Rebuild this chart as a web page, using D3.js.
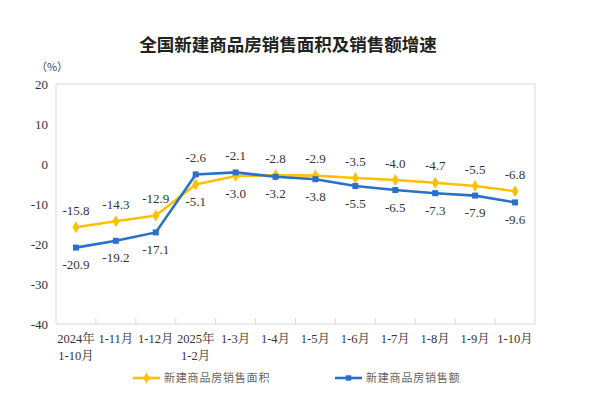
<!DOCTYPE html>
<html>
<head>
<meta charset="utf-8">
<script src="https://cdn.jsdelivr.net/npm/d3@7"></script>
<style>
  body { margin: 0; background: #fff; }
  text { font-family: "Liberation Serif", "Noto Serif CJK SC", "Noto Sans CJK SC", serif; }
</style>
</head>
<body>
<div id="chart"></div>
<script>
const width = 611;
const height = 420;

// DATA
const categories = [
  ["2024年", "1-10月"], ["1-11月"], ["1-12月"], ["2025年", "1-2月"],
  ["1-3月"], ["1-4月"], ["1-5月"], ["1-6月"], ["1-7月"], ["1-8月"], ["1-9月"], ["1-10月"]
];
const areaValues = [-15.8, -14.3, -12.9, -5.1, -3.0, -2.8, -2.9, -3.5, -4.0, -4.7, -5.5, -6.8];
const salesValues = [-20.9, -19.2, -17.1, -2.6, -2.1, -3.2, -3.8, -5.5, -6.5, -7.3, -7.9, -9.6];
const yTicks = [20, 10, 0, -10, -20, -30, -40];
const seriesNames = ["新建商品房销售面积", "新建商品房销售额"];
const title = "全国新建商品房销售面积及销售额增速";

const yellow = "#FFC000";
const blue = "#2870C8";

const plot = { left: 56, right: 535, top: 84, bottom: 324 };

const svg = d3
  .select("#chart")
  .append("svg")
  .attr("width", width)
  .attr("height", height);

const x = d3
  .scaleBand()
  .domain(d3.range(categories.length))
  .range([plot.left, plot.right]);

const y = d3
  .scaleLinear()
  .domain([-40, 20])
  .range([plot.bottom, plot.top]);

// title
svg.append("text")
  .attr("x", 288)
  .attr("y", 51)
  .attr("text-anchor", "middle")
  .style("font-family", "'Noto Sans CJK SC', sans-serif")
  .style("font-size", "17.5px")
  .style("font-weight", "bold")
  .attr("fill", "#222")
  .text(title);

svg.append("text")
  .attr("x", 52)
  .attr("y", 71)
  .attr("text-anchor", "middle")
  .style("font-family", "'Noto Sans CJK SC', sans-serif")
  .style("font-size", "11px")
  .attr("fill", "#444")
  .text("（%）");

// frame
svg.append("rect")
  .attr("x", plot.left)
  .attr("y", plot.top)
  .attr("width", plot.right - plot.left)
  .attr("height", plot.bottom - plot.top)
  .attr("fill", "none")
  .attr("stroke", "#d9d9d9")
  .attr("stroke-width", 1);

// y axis labels
svg.append("g")
  .selectAll("text")
  .data(yTicks)
  .join("text")
  .attr("x", 48)
  .attr("y", (d) => y(d))
  .attr("dy", "0.35em")
  .attr("text-anchor", "end")
  .style("font-size", "13px")
  .attr("fill", "#333")
  .text((d) => d);

// x axis ticks (inside, between categories)
svg.append("g")
  .selectAll("line")
  .data(d3.range(1, categories.length))
  .join("line")
  .attr("x1", (d) => x(d))
  .attr("x2", (d) => x(d))
  .attr("y1", plot.bottom)
  .attr("y2", plot.bottom - 6)
  .attr("stroke", "#d9d9d9");

const xLabels = svg.append("g")
  .selectAll("text")
  .data(categories)
  .join("text")
  .attr("x", (d, i) => x(i) + x.bandwidth() / 2)
  .attr("y", 343)
  .attr("text-anchor", "middle")
  .style("font-size", "12.5px")
  .attr("fill", "#333");

xLabels.selectAll("tspan")
  .data((d) => d)
  .join("tspan")
  .attr("x", function () { return d3.select(this.parentNode).attr("x"); })
  .attr("dy", (d, i) => (i === 0 ? 0 : 17))
  .text((d) => d);

// lines
const line = d3
  .line()
  .x((d, i) => x(i) + x.bandwidth() / 2)
  .y((d) => y(d));

const series = [
  { name: seriesNames[0], values: areaValues, color: yellow, marker: d3.symbolDiamond },
  { name: seriesNames[1], values: salesValues, color: blue, marker: d3.symbolSquare }
];

series.forEach((s) => {
  svg.append("path")
    .attr("d", line(s.values))
    .attr("fill", "none")
    .attr("stroke", s.color)
    .attr("stroke-width", 2.6);

  svg.append("g")
    .selectAll("path")
    .data(s.values)
    .join("path")
    .attr("transform", (d, i) => `translate(${x(i) + x.bandwidth() / 2},${y(d)})`)
    .attr("d", d3.symbol().type(s.marker).size(s.marker === d3.symbolSquare ? 36 : 42))
    .attr("fill", s.color);
});

// data labels: higher value above, lower below
series.forEach((s, k) => {
  const other = series[1 - k].values;
  svg.append("g")
    .selectAll("text")
    .data(s.values)
    .join("text")
    .attr("x", (d, i) => x(i) + x.bandwidth() / 2)
    .attr("y", (d, i) => y(d) + (d >= other[i] ? -17 : 17))
    .attr("dy", "0.35em")
    .attr("text-anchor", "middle")
    .style("font-size", "13px")
    .attr("fill", "#333")
    .text((d) => d.toFixed(1));
});

// legend
const legendX = [133, 335];
series.forEach((s, k) => {
  const g = svg.append("g").attr("transform", `translate(${legendX[k]},378)`);
  g.append("line")
    .attr("x1", 0)
    .attr("x2", 27)
    .attr("stroke", s.color)
    .attr("stroke-width", 2.6);
  g.append("path")
    .attr("transform", "translate(13.5,0)")
    .attr("d", d3.symbol().type(s.marker).size(s.marker === d3.symbolSquare ? 30 : 36))
    .attr("fill", s.color);
  g.append("text")
    .attr("x", 31)
    .attr("dy", "0.35em")
    .style("font-family", "'Noto Sans CJK SC', sans-serif")
    .style("font-size", "11px")
    .style("letter-spacing", "0.8px")
    .attr("fill", "#666")
    .text(s.name);
});
</script>
</body>
</html>
